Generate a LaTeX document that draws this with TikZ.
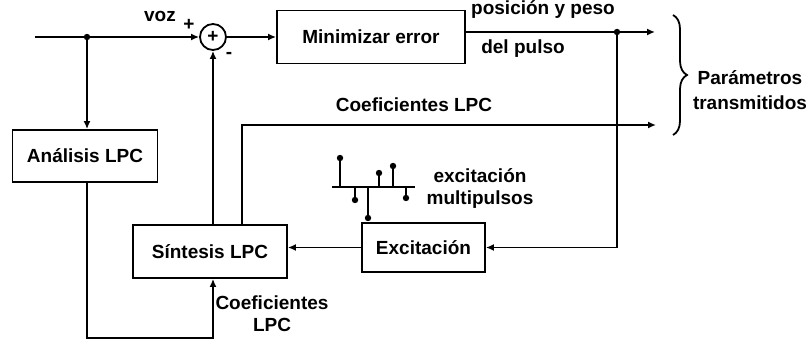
\documentclass[tikz,border=0pt]{standalone}
\usepackage{fontspec}
\setmainfont{Liberation Sans}
\usepackage{tikz}
\usetikzlibrary{arrows.meta}
\usetikzlibrary{decorations.pathreplacing}

\begin{document}
\begin{tikzpicture}[x=0.5pt,y=-0.5pt]
\tikzset{every node/.style={font=\fontsize{9.5}{11}\bfseries\selectfont},
  bloque/.style={draw,rectangle,line width=0.9pt,inner sep=0pt},
  flecha/.style={-{Latex[length=4pt,width=3.5pt]},line width=0.9pt},
  linea/.style={line width=0.9pt}}
\useasboundingbox (0,0) rectangle (806,342);
\node (sum) at (213,37) [draw,circle,line width=0.9pt,inner sep=0pt,minimum size=13pt] {+};
\node (mini) at (371,37) [bloque,minimum width=94pt,minimum height=26.5pt] {Minimizar error};
\node (anal) at (85,156) [bloque,minimum width=72.5pt,minimum height=26pt] {Análisis LPC};
\node (sint) at (210,251.5) [bloque,minimum width=77pt,minimum height=26.5pt] {Síntesis LPC};
\node (exci) at (423.5,247.5) [bloque,minimum width=61.5pt,minimum height=24.5pt] {Excitación};
\coordinate (in) at (35,37);
\coordinate (j1) at (87,37);
\coordinate (j2) at (617,32);
\coordinate (out1) at (655,32);
\coordinate (c1) at (242,125);
\coordinate (out2) at (656,125);
\coordinate (b1) at (87,338);
\coordinate (b2) at (213,338);
\fill (j1) circle (1.6pt);
\fill (j2) circle (1.6pt);

\draw[flecha] (in) -- (sum.west);
\draw[flecha] (j1) -- (j1 |- anal.north);
\draw[flecha] (sum.east) -- (mini.west);
\draw[flecha] (mini.east |- out1) -- (out1);
\draw[flecha] (j2) -- (j2 |- exci.east) -- (exci.east);
\draw[flecha] (exci.west) -- (exci.west -| sint.east);
\draw[flecha] (sint.north -| sum) -- (sum.south);
\draw[flecha] (c1 |- sint.north) -- (c1) -- (out2);
\draw[flecha] (j1 |- anal.south) -- (b1) -- (b2) -- (b2 |- sint.south);

\node (voz) at (160,16) {voz};
\node (mas) at (189,25) {+};
\node (menos) at (229,55) {-};
\node (pos) at (543,10) {posición y peso};
\node (pul) at (523,49) {del pulso};
\node (coef) at (414,105) {Coeficientes LPC};
\node (coefb) at (272,314) [align=center,inner sep=0pt] {Coeficientes\\LPC};
\node (exc) at (480,189) [align=center,inner sep=0pt] {excitación\\multipulsos};
\node (par) at (750,90) [align=center,inner sep=0pt,font=\fontsize{9.5}{12.5}\bfseries\selectfont] {Parámetros\\transmitidos};

\draw[linea,decorate,decoration={brace,amplitude=7pt}] (673,15) -- (673,135);
\draw[linea] (332,187) -- (415,187);
\foreach \x/\y in {340/158,355/200,368/218,379/173,393/166,406/198} {
\draw[linea] (\x,187) -- (\x,\y);
\fill (\x,\y) circle (1.6pt);
}
\end{tikzpicture}
\end{document}
